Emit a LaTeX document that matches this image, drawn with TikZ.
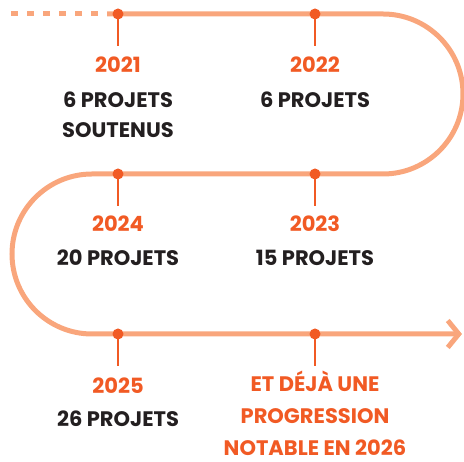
\documentclass[tikz,border=0pt]{standalone}
\usepackage{fontspec}
\setmainfont{Poppins}
\usepackage{tikz}
\usetikzlibrary{arrows.meta}

\definecolor{trackorange}{HTML}{F9A67C}
\definecolor{dotorange}{HTML}{F15A24}
\definecolor{inkblack}{HTML}{231F20}

\begin{document}
\begin{tikzpicture}[
    x=1pt, y=1pt,
    track/.style={line width=5pt, trackorange},
    dotnode/.style={circle, fill=dotorange, inner sep=0pt, minimum size=11pt},
    stem/.style={line width=2.6pt, dotorange},
    yearnode/.style={font=\bfseries\fontsize{21}{21}\selectfont, text=dotorange, inner sep=0pt, anchor=base},
    countnode/.style={font=\bfseries\fontsize{21}{30}\selectfont, text=inkblack, align=center, inner sep=0pt, anchor=base},
    notenode/.style={font=\bfseries\fontsize{21}{32}\selectfont, text=dotorange, align=center, inner sep=0pt, anchor=base}
]
\useasboundingbox (0,0) rectangle (464,462);

% Winding track
\draw[track, dash pattern=on 6.5pt off 9.5pt] (11,448) -- (107,448);
\draw[track, -{Straight Barb[length=11pt, width=27pt]}] (107,448) -- (383,448)
    arc[start angle=90, end angle=-90, radius=80pt] -- (92,288)
    arc[start angle=90, end angle=270, radius=80pt] -- (462,128);

% Year markers
\foreach \name/\x/\y in {m21/118/448, m22/315/448, m24/118/288, m23/315/288, m25/118/128, m26/315/128} {
    \node[dotnode] (\name) at (\x,\y) {};
    \coordinate (\name-end) at (\x,\y-32);
    \draw[stem] (\name.center) -- (\name-end);
}

% Labels (multi-line nodes sit on their last line)
\node[yearnode] (y21) at (118,389) {2021};
\node[countnode] (c21) at (118,324) {6 PROJETS\\SOUTENUS};
\node[yearnode] (y22) at (315,389) {2022};
\node[countnode] (c22) at (315,354) {6 PROJETS};

\node[yearnode] (y24) at (118,230) {2024};
\node[countnode] (c24) at (118,196) {20 PROJETS};
\node[yearnode] (y23) at (315,230) {2023};
\node[countnode] (c23) at (315,196) {15 PROJETS};

\node[yearnode] (y25) at (118,68) {2025};
\node[countnode] (c25) at (118,35) {26 PROJETS};
\node[notenode] (n26) at (315,6) {ET DÉJÀ UNE\\PROGRESSION\\NOTABLE EN 2026};

\end{tikzpicture}
\end{document}
